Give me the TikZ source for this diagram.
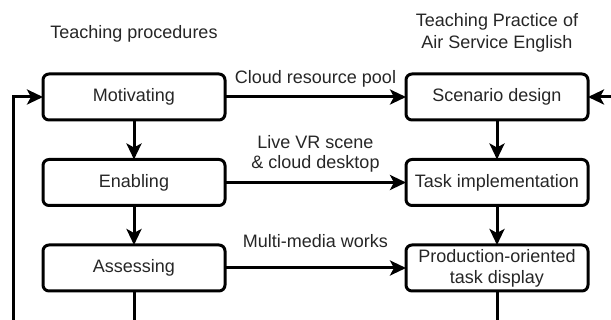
\documentclass[tikz,border=0pt]{standalone}
\usepackage{fontspec}
\setmainfont{Liberation Sans}
\usetikzlibrary{positioning,arrows.meta}

\begin{document}
\begin{tikzpicture}[x=1pt, y=1pt,
    every node/.style={font=\fontsize{18}{21}\selectfont, text=black!85},
    stagebox/.style={draw, line width=3pt, rounded corners=6pt, minimum width=182pt, minimum height=46pt, align=center, inner sep=2pt, outer sep=0pt},
    flow/.style={line width=3pt, -{Stealth[length=16pt,width=15pt,inset=4pt]}}]
  \useasboundingbox (0,0) rectangle (611,-320);
  % headings
  \node (hdL) at (134,-34) {Teaching procedures};
  \node[align=center, font=\fontsize{18}{22}\selectfont] (hdR) at (497,-33) {Teaching Practice of\\Air Service English};
  % boxes
  \node[stagebox] (mot) at (134,-97) {Motivating};
  \node[stagebox] (scn) at (497,-97) {Scenario design};
  \node[stagebox, below=39.5pt of mot] (enb) {Enabling};
  \node[stagebox, below=39.5pt of scn] (tsk) {Task implementation};
  \node[stagebox, below=39.5pt of enb] (asm) {Assessing};
  \node[stagebox, below=39.5pt of tsk, font=\fontsize{18}{21}\selectfont] (prd) {Production-oriented\\task display};
  % free ends outside the frame
  \coordinate (loopIn) at (13,-330);
  \coordinate (asmOut) at (asm.south |- loopIn);
  \coordinate (prdOut) at (prd.south |- loopIn);
  \coordinate (rtIn) at (625,-97);
  % connectors
  \draw[flow] (mot) -- node[above=5pt] (lblpool) {Cloud resource pool} (scn);
  \draw[flow] (enb) -- node[above=5pt, align=center, font=\fontsize{18}{20}\selectfont] (lblvr) {Live VR scene\\\& cloud desktop} (tsk);
  \draw[flow] (asm) -- node[above=15pt] (lblmm) {Multi-media works} (prd);
  \draw[flow] (mot) -- (enb);
  \draw[flow] (enb) -- (asm);
  \draw[flow] (scn) -- (tsk);
  \draw[flow] (tsk) -- (prd);
  \draw[line width=3pt] (asm) -- (asmOut);
  \draw[line width=3pt] (prd) -- (prdOut);
  \draw[flow] (loopIn) |- (mot.west);
  \draw[flow] (rtIn) -- (scn);
\end{tikzpicture}
\end{document}
